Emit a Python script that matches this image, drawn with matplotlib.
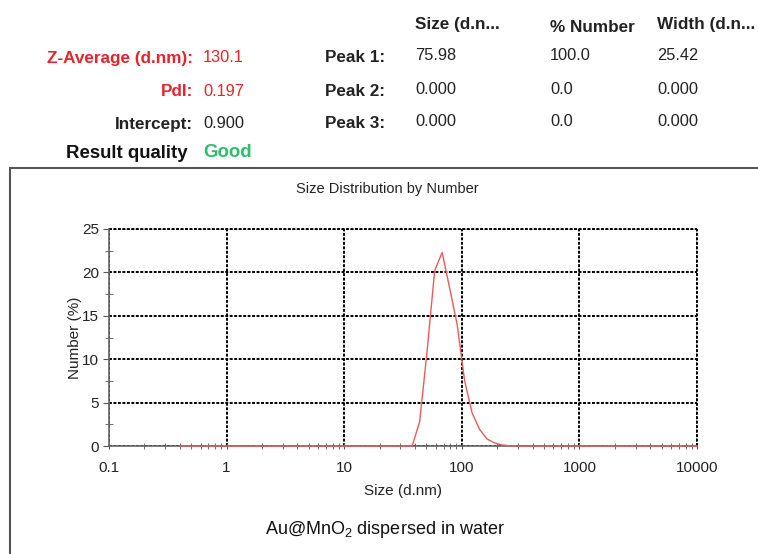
import numpy as np
import matplotlib
matplotlib.use('Agg')
import matplotlib.pyplot as plt
from matplotlib.patches import Rectangle
from matplotlib.ticker import FixedLocator, NullFormatter, FuncFormatter

plt.rcParams['font.family'] = ['Liberation Sans', 'DejaVu Sans']
plt.rcParams['mathtext.fontset'] = 'custom'
plt.rcParams['mathtext.rm'] = 'Liberation Sans'
plt.rcParams['mathtext.it'] = 'Liberation Sans:italic'

# size bins (d.nm) and number distribution (%)
sizes = [0.4, 1.0, 10.0, 32.67, 37.84, 43.82, 50.75, 58.77, 68.06, 78.82, 91.28,
         105.7, 122.4, 141.8, 164.2, 190.1, 220.2, 255.0, 295.3, 1000.0, 10000.0]
number = [0, 0, 0, 0, 0, 2.8, 11.0, 20.2, 22.3, 18.2, 14.0,
          7.5, 3.8, 1.9, 0.8, 0.35, 0.12, 0.03, 0, 0, 0]

# header table
head_cols = ['Size (d.n...', '% Number', 'Width (d.n...']
peak_names = ['Peak 1:', 'Peak 2:', 'Peak 3:']
peak_size = ['75.98', '0.000', '0.000']
peak_number = ['100.0', '0.0', '0.0']
peak_width = ['25.42', '0.000', '0.000']
left_labels = ['Z-Average (d.nm):', 'PdI:', 'Intercept:']
left_values = ['130.1', '0.197', '0.900']
left_colors = ['#e8232b', '#e8232b', '#222222']

fig = plt.figure(figsize=(7.58, 5.54), dpi=100)
W, H = 758, 554


def fx(px):
    return px / W


def fy(py):
    return 1 - py / H


fb = 12.3  # bold labels
fv = 11.8  # values
for txt, x, yy in zip(head_cols, [415, 550, 657], [24, 27, 24]):
    fig.text(fx(x), fy(yy), txt, fontsize=fb, fontweight='bold', va='center',
             ha='left', color='#222222')
for i, yy in enumerate([58, 91, 124]):
    fig.text(fx(193), fy(yy), left_labels[i], fontsize=fb, fontweight='bold',
             color=left_colors[i], va='center', ha='right')
    fig.text(fx(203), fy(yy), left_values[i], fontsize=fv,
             color=left_colors[i], va='center', ha='left')
    fig.text(fx(385), fy(yy), peak_names[i], fontsize=fb, fontweight='bold',
             va='center', ha='right', color='#222222')
    fig.text(fx(415), fy(yy - 2), peak_size[i], fontsize=fv, va='center', ha='left',
             color='#222222')
    fig.text(fx(550), fy(yy - 2), peak_number[i], fontsize=fv, va='center', ha='left',
             color='#222222')
    fig.text(fx(657), fy(yy - 2), peak_width[i], fontsize=fv, va='center', ha='left',
             color='#222222')
fig.text(fx(188), fy(154), 'Result quality', fontsize=13.4, fontweight='bold',
         va='center', ha='right', color='#111111')
fig.text(fx(203), fy(153), 'Good', fontsize=13.4, fontweight='bold',
         color='#2bbf6a', va='center', ha='left')

# frame around the chart
fig.patches.append(Rectangle((fx(10), -0.05), 1.2, fy(168) + 0.05,
                             transform=fig.transFigure, fill=False,
                             edgecolor='#555555', linewidth=1.5))

ax = fig.add_axes([fx(109), fy(446), (697 - 109) / W, (446 - 229) / H])
ax.plot(sizes, number, color='#ee5a5a', linewidth=1.0, clip_on=False, zorder=5)
ax.set_xscale('log')
ax.set_xlim(0.1, 10000)
ax.set_ylim(0, 25)

ax.xaxis.set_major_locator(FixedLocator([0.1, 1, 10, 100, 1000, 10000]))
ax.xaxis.set_major_formatter(FuncFormatter(lambda v, p: '%g' % v))
minor = [m * 10.0 ** e for e in range(-1, 4) for m in range(2, 10)]
ax.xaxis.set_minor_locator(FixedLocator(minor))
ax.xaxis.set_minor_formatter(NullFormatter())
ax.set_yticks([0, 5, 10, 15, 20, 25])
ax.yaxis.set_minor_locator(FixedLocator([2.5, 7.5, 12.5, 17.5, 22.5]))

ax.tick_params(which='both', direction='inout', color='#555555', labelsize=11,
               labelcolor='#222222')
ax.tick_params(axis='x', which='both', length=5, pad=8)
ax.tick_params(axis='y', which='major', direction='out', length=4, pad=3)
ax.tick_params(axis='y', which='minor', length=6)

for s in ['top', 'right']:
    ax.spines[s].set_visible(False)
for s in ['left', 'bottom']:
    ax.spines[s].set_color('#666666')
    ax.spines[s].set_linewidth(1.2)

dots = (0, (1.5, 0.8))
ax.grid(True, which='major', color='black', linestyle=dots, linewidth=1.4)
ax.axhline(25, color='black', linestyle=dots, linewidth=1.4, clip_on=False)
ax.axvline(10000, color='black', linestyle=dots, linewidth=1.4, clip_on=False)

ax.set_xlabel('Size (d.nm)', fontsize=11, labelpad=7, color='#222222')
ax.set_ylabel('Number (%)', fontsize=11, labelpad=0, color='#222222')
fig.text(fx(387), fy(189), 'Size Distribution by Number', fontsize=10.5,
         ha='center', va='center', color='#222222')
fig.text(fx(385), fy(530), 'Au@MnO$_2$ dispersed in water', fontsize=13,
         ha='center', va='center', color='#111111')

fig.savefig('out.png', dpi=100)
